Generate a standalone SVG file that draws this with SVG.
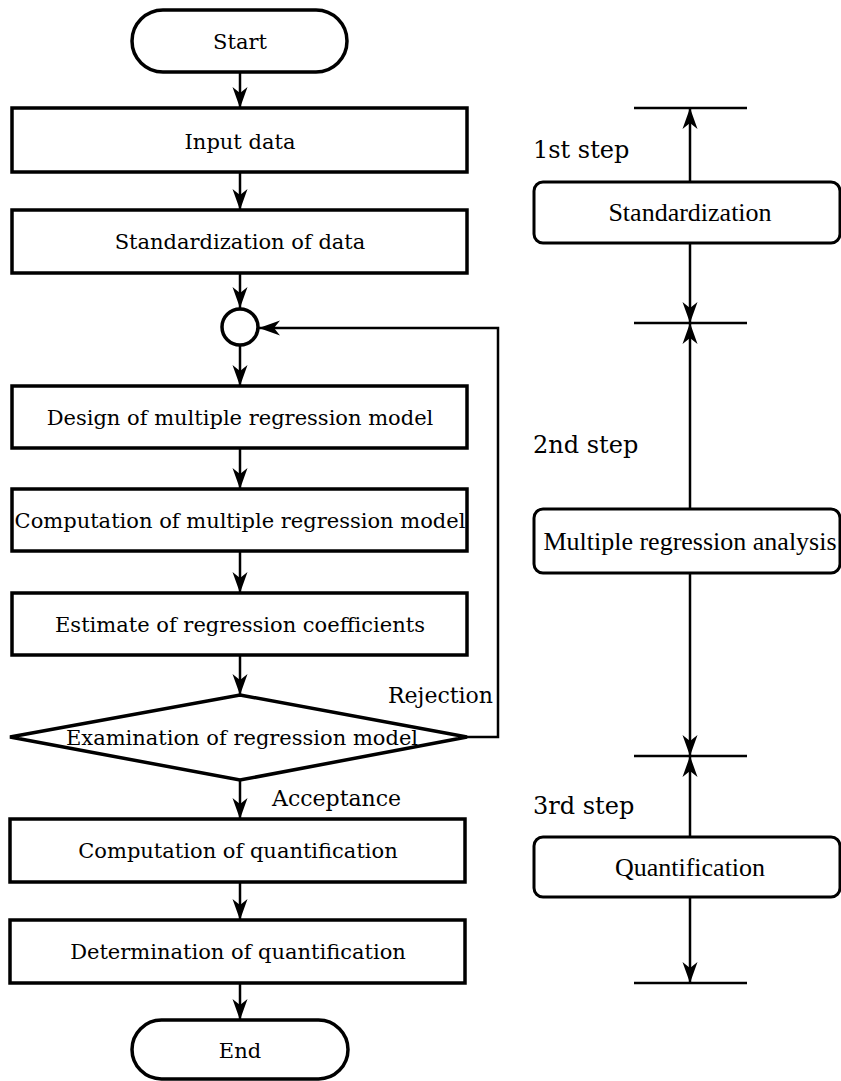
<svg xmlns="http://www.w3.org/2000/svg" width="841" height="1081" viewBox="0 0 841 1081">
<style>
.box{fill:#fff;stroke:#000;stroke-width:3.5}
.rbox{fill:#fff;stroke:#000;stroke-width:3}
.ln{fill:none;stroke:#000;stroke-width:2.5}
.bar{fill:none;stroke:#000;stroke-width:2.5}
.t{font-family:"DejaVu Serif","Liberation Serif",serif;font-size:21px;fill:#000;text-anchor:middle}
.rt{font-family:"Liberation Serif","DejaVu Serif",serif;font-size:26px;fill:#000;text-anchor:middle}
.lab{font-family:"DejaVu Serif","Liberation Serif",serif;font-size:22px;fill:#000}
.step{font-family:"DejaVu Serif","Liberation Serif",serif;font-size:24px;fill:#000}
</style>
<defs>
<marker id="ah" viewBox="-22 -9 24 18" refX="0" refY="0" markerWidth="24" markerHeight="18" markerUnits="userSpaceOnUse" orient="auto">
<path d="M0,0 L-21,-7.5 L-15,0 L-21,7.5 Z" fill="#000"/>
</marker>
</defs>
<g id="connectors">
<line class="ln" x1="240" y1="72" x2="240" y2="108" marker-end="url(#ah)"/>
<line class="ln" x1="240" y1="172" x2="240" y2="210" marker-end="url(#ah)"/>
<line class="ln" x1="240" y1="273" x2="240" y2="308" marker-end="url(#ah)"/>
<line class="ln" x1="240" y1="346" x2="240" y2="386" marker-end="url(#ah)"/>
<line class="ln" x1="240" y1="448" x2="240" y2="489" marker-end="url(#ah)"/>
<line class="ln" x1="240" y1="551" x2="240" y2="593" marker-end="url(#ah)"/>
<line class="ln" x1="240" y1="655" x2="240" y2="695" marker-end="url(#ah)"/>
<line class="ln" x1="240" y1="780" x2="240" y2="819" marker-end="url(#ah)"/>
<line class="ln" x1="240" y1="882" x2="240" y2="920" marker-end="url(#ah)"/>
<line class="ln" x1="240" y1="983" x2="240" y2="1020" marker-end="url(#ah)"/>
<polyline class="ln" points="467,737 498,737 498,328 259,328" marker-end="url(#ah)"/>
<line class="ln" x1="690" y1="182" x2="690" y2="108" marker-end="url(#ah)"/>
<line class="ln" x1="690" y1="243" x2="690" y2="323" marker-end="url(#ah)"/>
<line class="ln" x1="690" y1="509" x2="690" y2="323" marker-end="url(#ah)"/>
<line class="ln" x1="690" y1="573" x2="690" y2="756" marker-end="url(#ah)"/>
<line class="ln" x1="690" y1="837" x2="690" y2="756" marker-end="url(#ah)"/>
<line class="ln" x1="690" y1="897" x2="690" y2="983" marker-end="url(#ah)"/>
<line class="bar" x1="634" y1="108" x2="747" y2="108"/>
<line class="bar" x1="634" y1="323" x2="747" y2="323"/>
<line class="bar" x1="634" y1="756" x2="747" y2="756"/>
<line class="bar" x1="634" y1="983" x2="747" y2="983"/>
</g>
<g id="start"><rect class="box" x="132" y="10" width="215" height="62" rx="31"/><text class="t" x="240" y="49">Start</text></g>
<g id="input"><rect class="box" x="12" y="108" width="455" height="64"/><text class="t" x="240" y="149">Input data</text></g>
<g id="stddata"><rect class="box" x="12" y="210" width="455" height="63"/><text class="t" x="240" y="249">Standardization of data</text></g>
<g id="junction"><circle class="box" cx="240" cy="327" r="18"/></g>
<g id="design"><rect class="box" x="12" y="386" width="455" height="62"/><text class="t" x="240" y="425">Design of multiple regression model</text></g>
<g id="compmodel"><rect class="box" x="12" y="489" width="455" height="62"/><text class="t" x="240" y="528">Computation of multiple regression model</text></g>
<g id="estimate"><rect class="box" x="12" y="593" width="455" height="62"/><text class="t" x="240" y="632">Estimate of regression coefficients</text></g>
<g id="exam"><polygon class="box" points="240,695 467,737 240,780 10,737"/><text class="t" x="242" y="745">Examination of regression model</text></g>
<g id="compquant"><rect class="box" x="10" y="819" width="455" height="63"/><text class="t" x="238" y="858">Computation of quantification</text></g>
<g id="detquant"><rect class="box" x="10" y="920" width="455" height="63"/><text class="t" x="238" y="959">Determination of quantification</text></g>
<g id="end"><rect class="box" x="132" y="1020" width="216" height="59" rx="29.5"/><text class="t" x="240" y="1058">End</text></g>
<g id="labels">
<text class="lab" x="388" y="703">Rejection</text>
<text class="lab" x="272" y="806">Acceptance</text>
<text class="step" x="533" y="158">1st step</text>
<text class="step" x="533" y="453">2nd step</text>
<text class="step" x="533" y="814">3rd step</text>
</g>
<g id="step1"><rect class="rbox" x="534" y="182" width="306" height="61" rx="9"/><text class="rt" x="690" y="221">Standardization</text></g>
<g id="step2"><rect class="rbox" x="534" y="509" width="306" height="64" rx="9"/><text class="rt" x="690" y="550">Multiple regression analysis</text></g>
<g id="step3"><rect class="rbox" x="534" y="837" width="306" height="60" rx="9"/><text class="rt" x="690" y="876">Quantification</text></g>
</svg>
